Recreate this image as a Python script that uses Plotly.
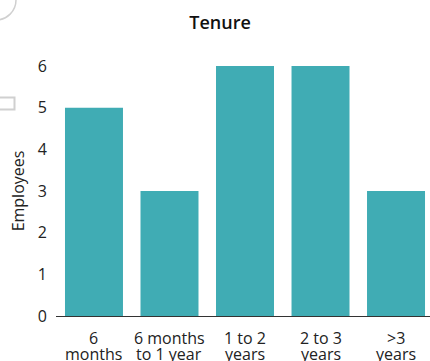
import plotly.graph_objects as go

# Tenure distribution of employees
categories = ["6\nmonths", "6 months\nto 1 year", "1 to 2\nyears", "2 to 3\nyears", ">3\nyears"]
employees = [5, 3, 6, 6, 3]

BAR_COLOR = "#40ACB4"
FONT = "Open Sans, Noto Sans, sans-serif"
TEXT_COLOR = "#222222"

W, H = 430, 361
L, R, T, B = 56, 0, 66, 45
plot_w = W - L - R
plot_h = H - T - B


def px_x(p):
    return (p - L) / plot_w


def px_y(p):
    return (H - B - p) / plot_h


positions = list(range(len(categories)))

fig = go.Figure(
    go.Bar(
        x=positions,
        y=employees,
        marker=dict(color=BAR_COLOR, line=dict(width=0)),
        hoverinfo="skip",
    )
)

# two-line category labels under each bar, set with a tight line spacing
label_annotations = []
for pos, label in zip(positions, categories):
    for row, (line, y_px) in enumerate(zip(label.split("\n"), (338, 354))):
        label_annotations.append(
            dict(
                x=pos,
                xref="x",
                y=px_y(y_px),
                yref="paper",
                text=line,
                showarrow=False,
                xanchor="center",
                yanchor="middle",
                font=dict(family=FONT, size=16, color=TEXT_COLOR),
            )
        )

fig.update_layout(
    width=W,
    height=H,
    margin=dict(l=L, r=R, t=T, b=B, pad=0),
    paper_bgcolor="white",
    plot_bgcolor="white",
    bargap=0.232,
    showlegend=False,
    font=dict(family=FONT, size=16, color=TEXT_COLOR),
    title=dict(
        text="Tenure",
        x=220 / W,
        xanchor="center",
        y=1 - 23 / H,
        yanchor="middle",
        font=dict(family=FONT, size=18, color="#111111", weight=600),
    ),
    xaxis=dict(
        tickmode="array",
        tickvals=positions,
        showticklabels=False,
        range=[-0.503, 4.45],
        showgrid=False,
        zeroline=False,
        showline=True,
        linecolor="#333333",
        linewidth=1,
        ticks="",
        fixedrange=True,
    ),
    yaxis=dict(
        range=[0, 6],
        dtick=1,
        showgrid=False,
        zeroline=False,
        showline=False,
        ticks="",
        ticklabelstandoff=8,
        tickfont=dict(size=16, color=TEXT_COLOR),
        title=dict(text="Employees", font=dict(size=16, color=TEXT_COLOR), standoff=9),
        fixedrange=True,
    ),
    annotations=label_annotations,
    shapes=[
        # partial circle outline at the top-left corner
        dict(
            type="circle",
            xref="paper",
            yref="paper",
            x0=px_x(-24),
            x1=px_x(16),
            y0=px_y(20),
            y1=px_y(-20),
            line=dict(color="#D0D0D0", width=1.5),
            layer="above",
        ),
        # partial square outline on the left edge
        dict(
            type="rect",
            xref="paper",
            yref="paper",
            x0=px_x(-10),
            x1=px_x(14.5),
            y0=px_y(109.5),
            y1=px_y(97.5),
            line=dict(color="#D0D0D0", width=2),
            layer="above",
        ),
    ],
)

fig.write_html("out.html", config={"displayModeBar": False})
